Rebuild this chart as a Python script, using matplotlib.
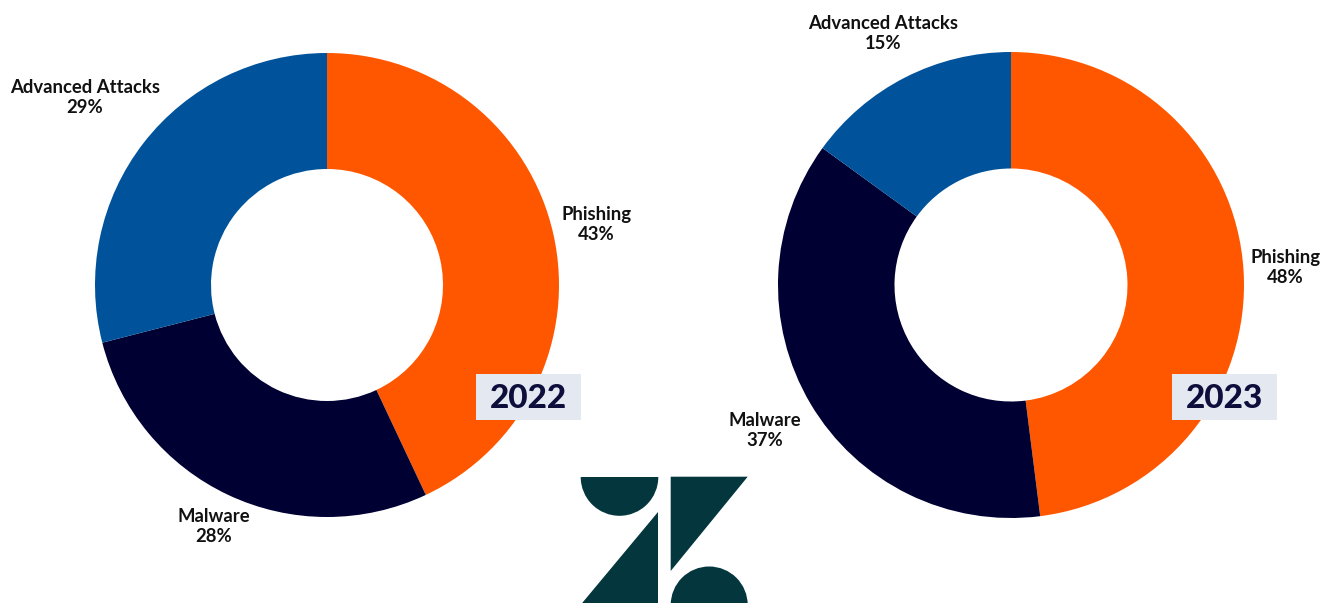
import numpy as np
import matplotlib.pyplot as plt
from matplotlib.patches import Wedge, Polygon, Rectangle

plt.rcParams['font.family'] = ['Lato', 'DejaVu Sans']

# share of incidents per category, clockwise from 12 o'clock
categories = ['Phishing', 'Malware', 'Advanced Attacks']
share_2022 = [43, 28, 29]
share_2023 = [48, 37, 15]
years = ['2022', '2023']

colors = ['#FF5700', '#000033', '#00539B']
logo_color = '#03363D'

W, H = 1333, 603
fig = plt.figure(figsize=(W / 100, H / 100), dpi=100)
ax = fig.add_axes([0, 0, 1, 1])


def donut(ax, values, cx, cy, r, label_dist, year, box):
    ax.pie(values, colors=colors, startangle=90, counterclock=False,
           center=(cx, cy), radius=r,
           wedgeprops=dict(width=r / 2, linewidth=0))
    # labels sit on the mid angle of each slice
    start = 90.0
    total = float(sum(values))
    for name, v, d in zip(categories, values, label_dist):
        span = v / total * 360
        mid = np.deg2rad(start - span / 2)
        start -= span
        ax.text(cx + d * r * np.cos(mid), cy + d * r * np.sin(mid),
                f'{name}\n{v}%', ha='center', va='center',
                fontsize=13.3, fontweight='bold', color='#111111',
                linespacing=1.22)
    bx, by, bw, bh = box
    ax.add_patch(Rectangle((bx, by), bw, bh, facecolor='#E4E8F0',
                           edgecolor='none', zorder=3))
    ax.text(bx + bw / 2, by + bh / 2 - 1, year, ha='center', va='center',
            fontsize=24, fontweight='black', color='#0E0E3C', zorder=4)


donut(ax, share_2022, 327, H - 285, 232, [1.19, 1.15, 1.32], years[0],
      (476, H - 420, 105, 46))
donut(ax, share_2023, 1011, H - 285, 233, [1.18, 1.23, 1.21], years[1],
      (1172, H - 420, 105, 46))

# logo at the bottom centre
ax.add_patch(Wedge((619.5, H - 477), 38.8, 180, 360, facecolor=logo_color,
                   edgecolor='none'))
ax.add_patch(Polygon([(658.3, H - 511.7), (658.3, H - 620), (567.7, H - 620)],
                     closed=True, facecolor=logo_color, edgecolor='none'))
ax.add_patch(Polygon([(670.7, H - 476.7), (747.7, H - 476.7), (670.7, H - 571)],
                     closed=True, facecolor=logo_color, edgecolor='none'))
ax.add_patch(Wedge((709.2, H - 605), 38.5, 0, 180, facecolor=logo_color,
                   edgecolor='none'))

ax.set_xlim(0, W)
ax.set_ylim(0, H)
ax.set_aspect('equal')
ax.axis('off')

fig.savefig('out.png', dpi=100, facecolor='white')
